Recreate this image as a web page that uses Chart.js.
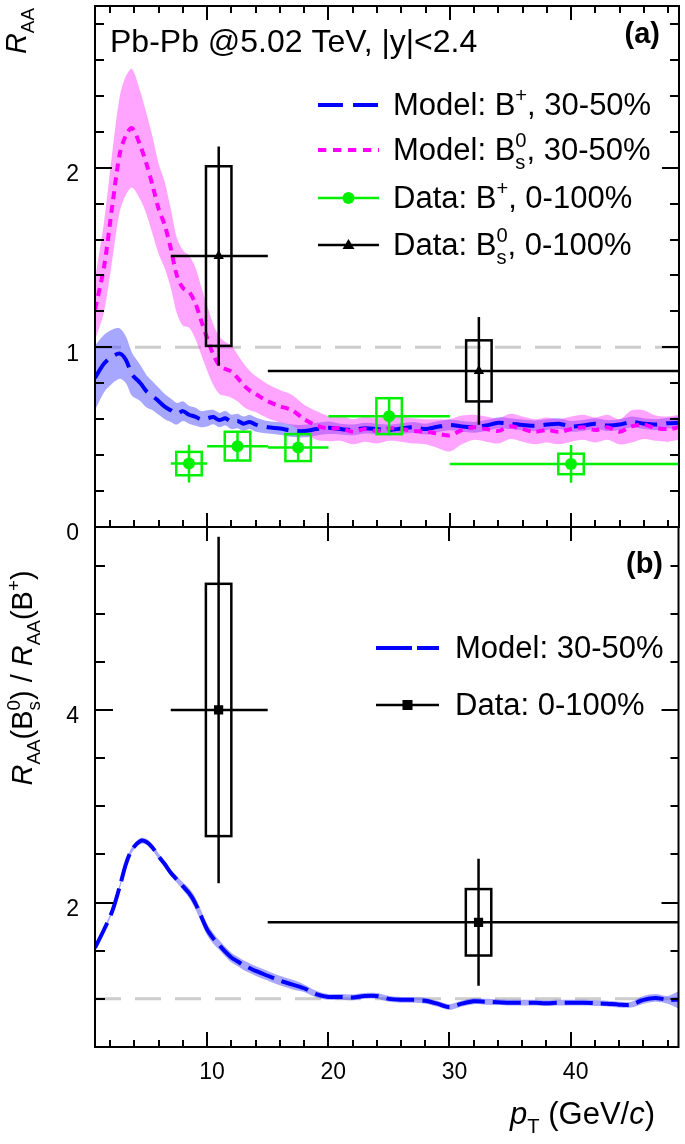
<!DOCTYPE html>
<html lang="en">
<head>
<meta charset="UTF-8">
<title>RAA of B+ and Bs0</title>
<script src="https://cdn.jsdelivr.net/npm/chart.js@4.4.1/dist/chart.umd.min.js"></script>
<style>
  body { margin: 0; background: #fff; }
  #wrap { position: relative; width: 685px; height: 1144px; }
  canvas { position: absolute; left: 0; top: 0; }
</style>
</head>
<body>
<div id="wrap">
  <canvas id="topPanel" width="685" height="1144"></canvas>
  <canvas id="bottomPanel" width="685" height="1144"></canvas>
</div>
<script>
// ---- data ----
const ptGrid = [0.75,1.5,2.2,2.8,3.3,3.8,4.5,5,5.5,6,6.5,7,7.5,8,8.5,9,9.5,10,10.5,11,11.5,12,12.5,13,13.5,14,
  15,16,17,18,19,20,21,22,23,24,25,26,27,28,29,30,31,32,33,34,35,36,37,38,39,40,41,42,43,44,45,46,47,48,48.9];

// model B+ 30-50% (panel a)
const bpModel = [0.83,0.91,0.95,0.965,0.93,0.85,0.80,0.755,0.73,0.70,0.67,0.65,0.63,0.645,0.625,0.615,0.60,0.605,0.612,0.595,0.605,0.585,0.59,0.575,0.585,0.57,
  0.555,0.548,0.536,0.534,0.545,0.552,0.545,0.54,0.55,0.545,0.54,0.548,0.555,0.545,0.558,0.568,0.56,0.555,0.565,0.58,0.575,0.568,0.563,0.57,0.575,0.56,0.565,0.575,0.565,0.57,0.585,0.575,0.57,0.578,0.58];
const bpBand = [0.18,0.16,0.15,0.14,0.13,0.12,0.10,0.09,0.08,0.075,0.07,0.065,0.06,0.055,0.05,0.05,0.045,0.045,0.04,0.04,0.04,0.04,0.04,0.04,0.04,0.04,
  0.035,0.035,0.035,0.035,0.035,0.035,0.03,0.03,0.03,0.03,0.03,0.03,0.03,0.03,0.03,0.03,0.03,0.03,0.03,0.03,0.03,0.03,0.03,0.03,0.03,0.03,0.03,0.03,0.03,0.03,0.03,0.03,0.03,0.03,0.035];

// model Bs0 30-50% (panel a)
const bsModel = [1.21,1.45,1.80,2.08,2.18,2.22,2.12,2.02,1.90,1.77,1.68,1.55,1.40,1.33,1.31,1.25,1.15,1.05,0.96,0.90,0.88,0.865,0.83,0.79,0.76,0.74,
  0.70,0.672,0.65,0.60,0.565,0.548,0.55,0.53,0.545,0.535,0.55,0.545,0.535,0.53,0.52,0.51,0.54,0.555,0.545,0.535,0.56,0.545,0.53,0.54,0.53,0.545,0.555,0.54,0.555,0.53,0.56,0.57,0.55,0.545,0.555];
const bsBand = [0.17,0.25,0.30,0.32,0.33,0.33,0.30,0.28,0.27,0.25,0.24,0.22,0.21,0.21,0.20,0.20,0.19,0.18,0.17,0.16,0.15,0.145,0.13,0.12,0.11,0.10,
  0.095,0.09,0.085,0.08,0.08,0.07,0.07,0.07,0.07,0.07,0.07,0.07,0.07,0.07,0.08,0.09,0.08,0.07,0.07,0.07,0.07,0.07,0.07,0.07,0.07,0.07,0.07,0.07,0.07,0.07,0.09,0.08,0.07,0.07,0.07];

// model ratio Bs0/B+ (panel b)
const ratioModel = [1.53,1.72,1.92,2.17,2.40,2.55,2.64,2.63,2.57,2.48,2.40,2.31,2.24,2.17,2.10,2.00,1.86,1.72,1.63,1.56,1.49,1.43,1.39,1.35,1.32,1.29,
  1.24,1.19,1.15,1.11,1.05,1.02,1.02,1.015,1.03,1.03,1.0,0.99,0.99,0.98,0.95,0.915,0.95,0.975,0.97,0.965,0.96,0.96,0.96,0.955,0.96,0.96,0.96,0.955,0.95,0.94,0.94,0.99,1.01,0.99,0.99];
const ratioBand = [0.02,0.02,0.02,0.025,0.025,0.03,0.03,0.03,0.03,0.03,0.03,0.03,0.035,0.04,0.05,0.06,0.06,0.06,0.055,0.05,0.05,0.05,0.05,0.05,0.05,0.05,
  0.05,0.05,0.05,0.04,0.035,0.03,0.03,0.03,0.03,0.03,0.03,0.03,0.03,0.03,0.03,0.03,0.03,0.03,0.03,0.03,0.03,0.03,0.03,0.03,0.03,0.03,0.03,0.03,0.03,0.03,0.03,0.04,0.04,0.04,0.09];

// data B+ 0-100%
const bpDataX = [8.5, 12.5, 17.5, 25, 40];
const bpDataY = [0.353, 0.45, 0.442, 0.617, 0.351];
const bpBinLo = [7, 10, 15, 20, 30];
const bpBinHi = [10, 15, 20, 30, 50];
const bpStat = [0.105, 0.08, 0.075, 0.095, 0.105];
const bpSys = [0.065, 0.08, 0.075, 0.1, 0.057];

// data Bs0 0-100%
const bsDataX = [10.95, 32.4];
const bsDataY = [1.508, 0.869];
const bsBinLo = [7, 15];
const bsBinHi = [15, 50];
const bsStat = [0.61, 0.30];
const bsSys = [0.50, 0.17];

// data ratio 0-100%
const ratioDataX = [10.95, 32.4];
const ratioDataY = [4.0, 1.795];
const ratioStat = [1.8, 0.66];
const ratioSys = [1.31, 0.345];

const boxHalfWidth = 1.05; // pT units
const xMin = 0.75, xMax = 48.9;

// ---- helpers ----
const FONT = '"Liberation Sans", Arial, Helvetica, sans-serif';
const BLUE = '#0000ff', MAGENTA = '#ff00ff', GREEN = '#00f000';
const BLUE_BAND = 'rgba(60,60,255,0.45)', MAGENTA_BAND = 'rgba(255,40,255,0.42)';

const pts = (xs, ys) => xs.map((x, i) => ({ x: x, y: ys[i] }));
const edge = (xs, ys, hw, s) => xs.map((x, i) => ({ x: x, y: ys[i] + s * hw[i] }));

function fnt(size, style) {
  return (style ? style + ' ' : '') + size + 'px ' + FONT;
}

function layoutRich(ctx, parts, size) {
  let w = 0;
  const out = [];
  parts.forEach(p => {
    const kind = p[1] || 'n';
    if (kind === 'ss') {
      const f = fnt(size * 0.65);
      ctx.font = f;
      const a = ctx.measureText(p[0]).width, b = ctx.measureText(p[2]).width;
      out.push({ t: p[0], x: w, dy: size * 0.28, f: f });
      out.push({ t: p[2], x: w, dy: -size * 0.42, f: f });
      w += Math.max(a, b);
    } else {
      let f = fnt(size), dy = 0;
      if (kind === 'i') f = fnt(size, 'italic');
      if (kind === 'b') f = fnt(size, 'bold');
      if (kind === 'sub') { f = fnt(size * 0.65); dy = size * 0.28; }
      if (kind === 'sup') { f = fnt(size * 0.65); dy = -size * 0.42; }
      ctx.font = f;
      out.push({ t: p[0], x: w, dy: dy, f: f });
      w += ctx.measureText(p[0]).width;
    }
  });
  return { w: w, out: out };
}

function drawRich(ctx, parts, x, y, size, align, rot) {
  ctx.save();
  ctx.translate(x, y);
  if (rot) ctx.rotate(rot);
  const L = layoutRich(ctx, parts, size);
  const x0 = align === 'right' ? -L.w : align === 'center' ? -L.w / 2 : 0;
  ctx.fillStyle = '#000';
  ctx.textAlign = 'left';
  ctx.textBaseline = 'alphabetic';
  L.out.forEach(o => { ctx.font = o.f; ctx.fillText(o.t, x0 + o.x, o.dy); });
  ctx.restore();
}

function drawFrameAndTicks(chart, spec) {
  const ctx = chart.ctx, a = chart.chartArea;
  const xs = chart.scales.x, ys = chart.scales.y;
  ctx.save();
  ctx.strokeStyle = '#000';
  ctx.lineWidth = 2;
  ctx.beginPath();
  const near = (v, m) => Math.abs(v / m - Math.round(v / m)) < 1e-6;
  for (let v = Math.ceil(xs.min / spec.xMinor) * spec.xMinor; v <= xs.max; v += spec.xMinor) {
    const px = Math.round(xs.getPixelForValue(v));
    const maj = near(v, spec.xMajor);
    const lb = maj ? spec.bottom[0] : spec.bottom[1];
    const lt = maj ? spec.top[0] : spec.top[1];
    if (lb) { ctx.moveTo(px, a.bottom); ctx.lineTo(px, a.bottom - lb); }
    if (lt) { ctx.moveTo(px, a.top); ctx.lineTo(px, a.top + lt); }
  }
  for (let v = Math.ceil(ys.min / spec.yMinor - 1e-9) * spec.yMinor; v <= ys.max + 1e-9; v += spec.yMinor) {
    const py = Math.round(ys.getPixelForValue(v));
    const maj = near(v, spec.yMajor);
    const ll = maj ? spec.left[0] : spec.left[1];
    const lr = maj ? spec.right[0] : spec.right[1];
    ctx.moveTo(a.left, py); ctx.lineTo(a.left + ll, py);
    ctx.moveTo(a.right, py); ctx.lineTo(a.right - lr, py);
  }
  ctx.stroke();
  ctx.strokeRect(a.left, a.top, a.right - a.left, a.bottom - a.top);
  ctx.restore();
}

function drawUnity(chart) {
  const ctx = chart.ctx, a = chart.chartArea;
  const py = chart.scales.y.getPixelForValue(1);
  ctx.save();
  ctx.beginPath(); ctx.rect(a.left, a.top, a.right - a.left, a.bottom - a.top); ctx.clip();
  ctx.strokeStyle = '#cccccc';
  ctx.lineWidth = 3;
  ctx.setLineDash([26, 14]);
  ctx.beginPath(); ctx.moveTo(a.left, py); ctx.lineTo(a.right, py); ctx.stroke();
  ctx.restore();
}

function drawErrors(chart, g) {
  const ctx = chart.ctx, a = chart.chartArea;
  const xs = chart.scales.x, ys = chart.scales.y;
  ctx.save();
  ctx.beginPath(); ctx.rect(a.left, a.top, a.right - a.left, a.bottom - a.top); ctx.clip();
  ctx.strokeStyle = g.color;
  ctx.lineWidth = 2.5;
  g.x.forEach((x, i) => {
    const y = g.y[i];
    const px = xs.getPixelForValue(x), py = ys.getPixelForValue(y);
    ctx.beginPath();
    ctx.moveTo(xs.getPixelForValue(g.lo[i]), py); ctx.lineTo(xs.getPixelForValue(g.hi[i]), py);
    ctx.moveTo(px, ys.getPixelForValue(y + g.stat[i])); ctx.lineTo(px, ys.getPixelForValue(y - g.stat[i]));
    ctx.stroke();
    const bx0 = xs.getPixelForValue(x - boxHalfWidth), bx1 = xs.getPixelForValue(x + boxHalfWidth);
    const by0 = ys.getPixelForValue(y + g.sys[i]), by1 = ys.getPixelForValue(y - g.sys[i]);
    ctx.strokeRect(bx0, by0, bx1 - bx0, by1 - by0);
  });
  ctx.restore();
}

function legendLine(ctx, x0, x1, y, color, width, dash, marker) {
  ctx.save();
  ctx.strokeStyle = color;
  ctx.lineWidth = width;
  ctx.setLineDash(dash || []);
  ctx.beginPath(); ctx.moveTo(x0, y); ctx.lineTo(x1, y); ctx.stroke();
  ctx.setLineDash([]);
  const cx = (x0 + x1) / 2;
  ctx.fillStyle = color;
  if (marker === 'circle') { ctx.beginPath(); ctx.arc(cx, y, 6, 0, 2 * Math.PI); ctx.fill(); }
  if (marker === 'triangle') { ctx.beginPath(); ctx.moveTo(cx, y - 6); ctx.lineTo(cx + 6, y + 4); ctx.lineTo(cx - 6, y + 4); ctx.closePath(); ctx.fill(); }
  if (marker === 'square') { ctx.fillRect(cx - 5, y - 5, 10, 10); }
  ctx.restore();
}

const errorPlugin = {
  id: 'errorBars',
  beforeDatasetsDraw(chart) { drawUnity(chart); },
  beforeDatasetDraw(chart, args) {
    (chart.$errGroups || []).forEach(g => { if (g.ds === args.index) drawErrors(chart, g); });
  }
};

function yScale(min, max, step) {
  return {
    type: 'linear', position: 'left', min: min, max: max,
    afterFit(s) { s.width = 95; s.paddingTop = 0; s.paddingBottom = 0; },
    grid: { display: false, drawTicks: false },
    border: { display: false },
    ticks: { stepSize: step, includeBounds: false, padding: 16, labelOffset: 7, color: '#000',
      font: { family: FONT, size: 23 } }
  };
}

// ---- panel (a) ----
const topChart = new Chart(document.getElementById('topPanel'), {
  type: 'line',
  data: {
    datasets: [
      { data: edge(ptGrid, bpModel, bpBand, 1), borderWidth: 0, pointRadius: 0, fill: false, order: 50 },
      { data: edge(ptGrid, bpModel, bpBand, -1), borderWidth: 0, pointRadius: 0, fill: 0,
        backgroundColor: BLUE_BAND, order: 49 },
      { data: edge(ptGrid, bsModel, bsBand, 1), borderWidth: 0, pointRadius: 0, fill: false, order: 40 },
      { data: edge(ptGrid, bsModel, bsBand, -1), borderWidth: 0, pointRadius: 0, fill: 2,
        backgroundColor: MAGENTA_BAND, order: 39 },
      { data: pts(ptGrid, bpModel), borderColor: BLUE, borderWidth: 4, borderDash: [22, 9], pointRadius: 0, fill: false, order: 30 },
      { data: pts(ptGrid, bsModel), borderColor: MAGENTA, borderWidth: 4, borderDash: [8, 6], pointRadius: 0, fill: false, order: 20 },
      { data: pts(bpDataX, bpDataY), showLine: false, pointStyle: 'circle', pointRadius: 6, borderWidth: 0,
        backgroundColor: GREEN, order: 10 },
      { data: pts(bsDataX, bsDataY), showLine: false, pointStyle: 'triangle', pointRadius: 6, borderWidth: 0,
        backgroundColor: '#000', order: 5 }
    ]
  },
  options: {
    responsive: false, animation: false, devicePixelRatio: 1,
    layout: { padding: { top: 1, right: 1, left: 0, bottom: 617 } },
    plugins: { legend: { display: false }, tooltip: { enabled: false } },
    elements: { line: { tension: 0.3 } },
    scales: {
      x: { type: 'linear', min: xMin, max: xMax, display: false },
      y: yScale(0, 2.9, 1)
    }
  },
  plugins: [errorPlugin, {
    id: 'decorA',
    afterDraw(chart) {
      const ctx = chart.ctx;
      drawFrameAndTicks(chart, { xMajor: 10, xMinor: 2, yMajor: 1, yMinor: 0.2,
        bottom: [14, 7], top: [14, 7], left: [17, 9], right: [17, 9] });
      drawRich(ctx, [['Pb-Pb @5.02 TeV, |y|<2.4']], 110, 52, 32, 'left');
      drawRich(ctx, [['(a)', 'b']], 660, 43, 29, 'right');
      drawRich(ctx, [['R', 'i'], ['AA', 'sub']], 26, 8, 29, 'right', -Math.PI / 2);
      const rows = [105, 150, 198, 245];
      legendLine(ctx, 318, 379, rows[0], BLUE, 4, [25, 10]);
      legendLine(ctx, 318, 379, rows[1], MAGENTA, 4, [8.3, 6.7]);
      legendLine(ctx, 318, 379, rows[2], GREEN, 2.5, null, 'circle');
      legendLine(ctx, 318, 379, rows[3], '#000', 2.5, null, 'triangle');
      drawRich(ctx, [['Model: B'], ['+', 'sup'], [', 30-50%']], 393, rows[0] + 10, 31, 'left');
      drawRich(ctx, [['Model: B'], ['s', 'ss', '0'], [', 30-50%']], 393, rows[1] + 10, 31, 'left');
      drawRich(ctx, [['Data: B'], ['+', 'sup'], [', 0-100%']], 393, rows[2] + 10, 31, 'left');
      drawRich(ctx, [['Data: B'], ['s', 'ss', '0'], [', 0-100%']], 393, rows[3] + 10, 31, 'left');
    }
  }]
});
topChart.$errGroups = [
  { ds: 6, color: GREEN, x: bpDataX, y: bpDataY, lo: bpBinLo, hi: bpBinHi, stat: bpStat, sys: bpSys },
  { ds: 7, color: '#000', x: bsDataX, y: bsDataY, lo: bsBinLo, hi: bsBinHi, stat: bsStat, sys: bsSys }
];
topChart.draw();

// ---- panel (b) ----
const bottomChart = new Chart(document.getElementById('bottomPanel'), {
  type: 'line',
  data: {
    datasets: [
      { data: edge(ptGrid, ratioModel, ratioBand, 1), borderWidth: 0, pointRadius: 0, fill: false, order: 50 },
      { data: edge(ptGrid, ratioModel, ratioBand, -1), borderWidth: 0, pointRadius: 0, fill: 0,
        backgroundColor: BLUE_BAND, order: 49 },
      { data: pts(ptGrid, ratioModel), borderColor: BLUE, borderWidth: 4, borderDash: [28, 8], pointRadius: 0, fill: false, order: 30 },
      { data: pts(ratioDataX, ratioDataY), showLine: false, pointStyle: 'rect', pointRadius: 6.5, borderWidth: 0,
        backgroundColor: '#000', order: 5 }
    ]
  },
  options: {
    responsive: false, animation: false, devicePixelRatio: 1,
    layout: { padding: { top: 527, right: 1, left: 0, bottom: 0 } },
    plugins: { legend: { display: false }, tooltip: { enabled: false } },
    elements: { line: { tension: 0.3 } },
    scales: {
      x: {
        type: 'linear', position: 'bottom', min: xMin, max: xMax,
        afterFit(s) { s.height = 97; s.paddingLeft = 0; s.paddingRight = 0; },
        grid: { display: false, drawTicks: false },
        border: { display: false },
        ticks: { stepSize: 10, includeBounds: false, padding: 12, labelOffset: 5, maxRotation: 0,
          autoSkip: false, color: '#000', font: { family: FONT, size: 23 } }
      },
      y: yScale(0.5, 5.9, 2)
    }
  },
  plugins: [errorPlugin, {
    id: 'decorB',
    afterDraw(chart) {
      const ctx = chart.ctx;
      drawFrameAndTicks(chart, { xMajor: 10, xMinor: 2, yMajor: 2, yMinor: 0.5,
        bottom: [15, 7], top: [14, 0], left: [18, 10], right: [17, 8] });
      drawRich(ctx, [['(b)', 'b']], 663, 573, 29, 'right');
      drawRich(ctx, [['R', 'i'], ['AA', 'sub'], ['(B'], ['s', 'ss', '0'], [') / '], ['R', 'i'], ['AA', 'sub'],
        ['(B'], ['+', 'sup'], [')']], 32, 678, 29, 'center', -Math.PI / 2);
      drawRich(ctx, [['p', 'i'], ['T', 'sub'], [' (GeV/'], ['c', 'i'], [')']], 655, 1124, 31, 'right');
      legendLine(ctx, 376, 439, 648, BLUE, 4, [36, 5]);
      legendLine(ctx, 376, 439, 705, '#000', 2.5, null, 'square');
      drawRich(ctx, [['Model: 30-50%']], 455, 658, 31, 'left');
      drawRich(ctx, [['Data: 0-100%']], 455, 715, 31, 'left');
    }
  }]
});
bottomChart.$errGroups = [
  { ds: 3, color: '#000', x: ratioDataX, y: ratioDataY, lo: bsBinLo, hi: bsBinHi, stat: ratioStat, sys: ratioSys }
];
bottomChart.draw();
</script>
</body>
</html>
